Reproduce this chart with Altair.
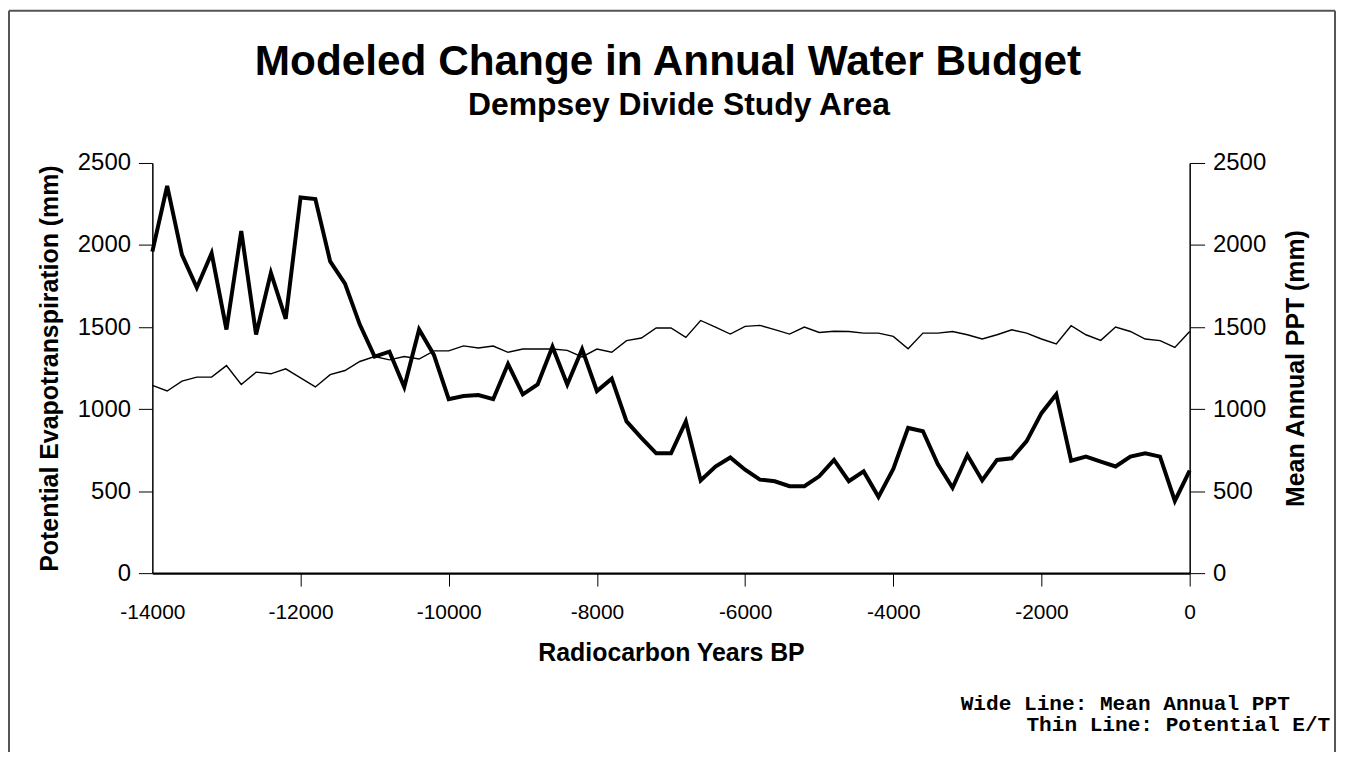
import altair as alt
import pandas as pd

years = [-14000, -13800, -13600, -13400, -13200, -13000, -12800, -12600, -12400, -12200,
         -12000, -11800, -11600, -11400, -11200, -11000, -10800, -10600, -10400, -10200,
         -10000, -9800, -9600, -9400, -9200, -9000, -8800, -8600, -8400, -8200,
         -8000, -7800, -7600, -7400, -7200, -7000, -6800, -6600, -6400, -6200,
         -6000, -5800, -5600, -5400, -5200, -5000, -4800, -4600, -4400, -4200,
         -4000, -3800, -3600, -3400, -3200, -3000, -2800, -2600, -2400, -2200,
         -2000, -1800, -1600, -1400, -1200, -1000, -800, -600, -400, -200, 0]

# Thin line: Potential Evapotranspiration (mm), left axis
pet = [1145, 1110, 1170, 1195, 1195, 1265, 1150, 1225, 1215, 1245,
       1190, 1135, 1210, 1235, 1290, 1320, 1300, 1320, 1305, 1355,
       1355, 1385, 1372, 1384, 1346, 1366, 1366, 1366, 1358, 1318,
       1366, 1346, 1417, 1433, 1494, 1494, 1437, 1540, 1500, 1457,
       1504, 1510, 1484, 1457, 1500, 1467, 1474, 1473, 1463, 1463,
       1443, 1368, 1463, 1463, 1473, 1453, 1427, 1453, 1483, 1463,
       1427, 1397, 1508, 1453, 1419, 1500, 1473, 1427, 1417, 1376, 1473]

# Wide line: Mean Annual PPT (mm), right axis
ppt = [1960, 2360, 1940, 1740, 1950, 1485, 2085, 1455, 1830, 1550,
       2290, 2280, 1900, 1765, 1515, 1320, 1350, 1135, 1485, 1330,
       1060, 1080, 1085, 1060, 1275, 1090, 1150, 1380, 1150, 1365,
       1110, 1185, 925, 825, 730, 730, 925, 565, 650, 705,
       630, 570, 560, 530, 530, 590, 690, 560, 620, 465,
       635, 885, 865, 665, 520, 720, 565, 690, 700, 805,
       975, 1090, 685, 710, 680, 650, 710, 730, 710, 440, 625]

x_ticks = [-14000, -12000, -10000, -8000, -6000, -4000, -2000, 0]
y_ticks = [0, 500, 1000, 1500, 2000, 2500]

title_text = "Modeled Change in Annual Water Budget"
subtitle_text = "Dempsey Divide Study Area"
note_wide = "Wide Line: Mean Annual PPT"
note_thin = "Thin Line: Potential E/T"

df = pd.DataFrame({"year": years, "pet": pet, "ppt": ppt})
one = pd.DataFrame({"k": [0]})

FONT = "Liberation Sans"
W, H = 1042, 412

x_enc = alt.X(
    "year:Q",
    scale=alt.Scale(domain=[-14000, 0], nice=False, zero=False),
    axis=alt.Axis(
        title="Radiocarbon Years BP", values=x_ticks, labelExpr="'' + datum.value",
        labelFlush=False, labelOverlap=False,
        labelFont=FONT, labelFontSize=21, labelColor="black", labelPadding=16,
        titleFont=FONT, titleFontSize=25, titleFontWeight="bold", titleColor="black",
        titlePadding=18, tickSize=13, tickColor="black", tickWidth=1,
        domainColor="black", domainWidth=2.5, grid=False,
        tickOpacity={"condition": {"test": "datum.value == -14000", "value": 0}, "value": 1},
    ),
)

def y_axis(title, orient):
    kw = dict(
        title=title, orient=orient, values=y_ticks, labelExpr="'' + datum.value",
        labelFlush=False, labelOverlap=False,
        labelFont=FONT, labelFontSize=24, labelColor="black", labelPadding=8,
        titleFont=FONT, titleFontSize=25, titleFontWeight="bold", titleColor="black",
        titlePadding=15, tickSize=14, tickColor="black", tickWidth=1,
        domainColor="black", domainWidth=1.5, grid=False,
    )
    if orient == "right":
        kw["titleAngle"] = 270
        kw["titleBaseline"] = "top"
        kw["titlePadding"] = 18
        kw["tickSize"] = 15
    return alt.Axis(**kw)

pet_line = alt.Chart(df).mark_line(color="black", strokeWidth=1.4).encode(
    x=x_enc,
    y=alt.Y("pet:Q", scale=alt.Scale(domain=[0, 2500], nice=False),
            axis=y_axis("Potential Evapotranspiration (mm)", "left")),
)

ppt_line = alt.Chart(df).mark_line(color="black", strokeWidth=4, strokeJoin="miter").encode(
    x=alt.X("year:Q"),
    y=alt.Y("ppt:Q", scale=alt.Scale(domain=[0, 2500], nice=False),
            axis=y_axis("Mean Annual PPT (mm)", "right")),
)

frame_color = "#555555"
frame_left = alt.Chart(one).mark_rule(color=frame_color, strokeWidth=2).encode(
    x=alt.value(-144), y=alt.value(-153), y2=alt.value(600))
frame_right = alt.Chart(one).mark_rule(color=frame_color, strokeWidth=2).encode(
    x=alt.value(1188), y=alt.value(-153), y2=alt.value(600))
frame_top = alt.Chart(one).mark_rule(color=frame_color, strokeWidth=2).encode(
    x=alt.value(-144), x2=alt.value(1188), y=alt.value(-153))

title_mark = alt.Chart(one).mark_text(
    text=title_text, font=FONT, fontWeight="bold", fontSize=42.5,
    align="center", baseline="alphabetic", color="black",
).encode(x=alt.value(518), y=alt.value(-88))
subtitle_mark = alt.Chart(one).mark_text(
    text=subtitle_text, font=FONT, fontWeight="bold", fontSize=32,
    align="center", baseline="alphabetic", color="black",
).encode(x=alt.value(529), y=alt.value(-48))

note1 = alt.Chart(one).mark_text(
    text=note_wide, font="Liberation Mono", fontWeight="bold",
    fontSize=21.2, align="left", baseline="middle", color="black",
).encode(x=alt.value(812), y=alt.value(543))
note2 = alt.Chart(one).mark_text(
    text=note_thin, font="Liberation Mono", fontWeight="bold",
    fontSize=21.2, align="left", baseline="middle", color="black",
).encode(x=alt.value(878), y=alt.value(565))

lines = alt.layer(pet_line, ppt_line).resolve_scale(y="independent")

chart = alt.layer(
    lines, frame_left, frame_right, frame_top, title_mark, subtitle_mark, note1, note2
).properties(
    width=W, height=H,
    autosize=alt.AutoSizeParams(type="none"),
    padding={"left": 145, "top": 154, "right": 149, "bottom": 178},
    background="white",
).configure_view(stroke=None)

chart.save("out.html", embed_options={"renderer": "svg", "actions": False})
